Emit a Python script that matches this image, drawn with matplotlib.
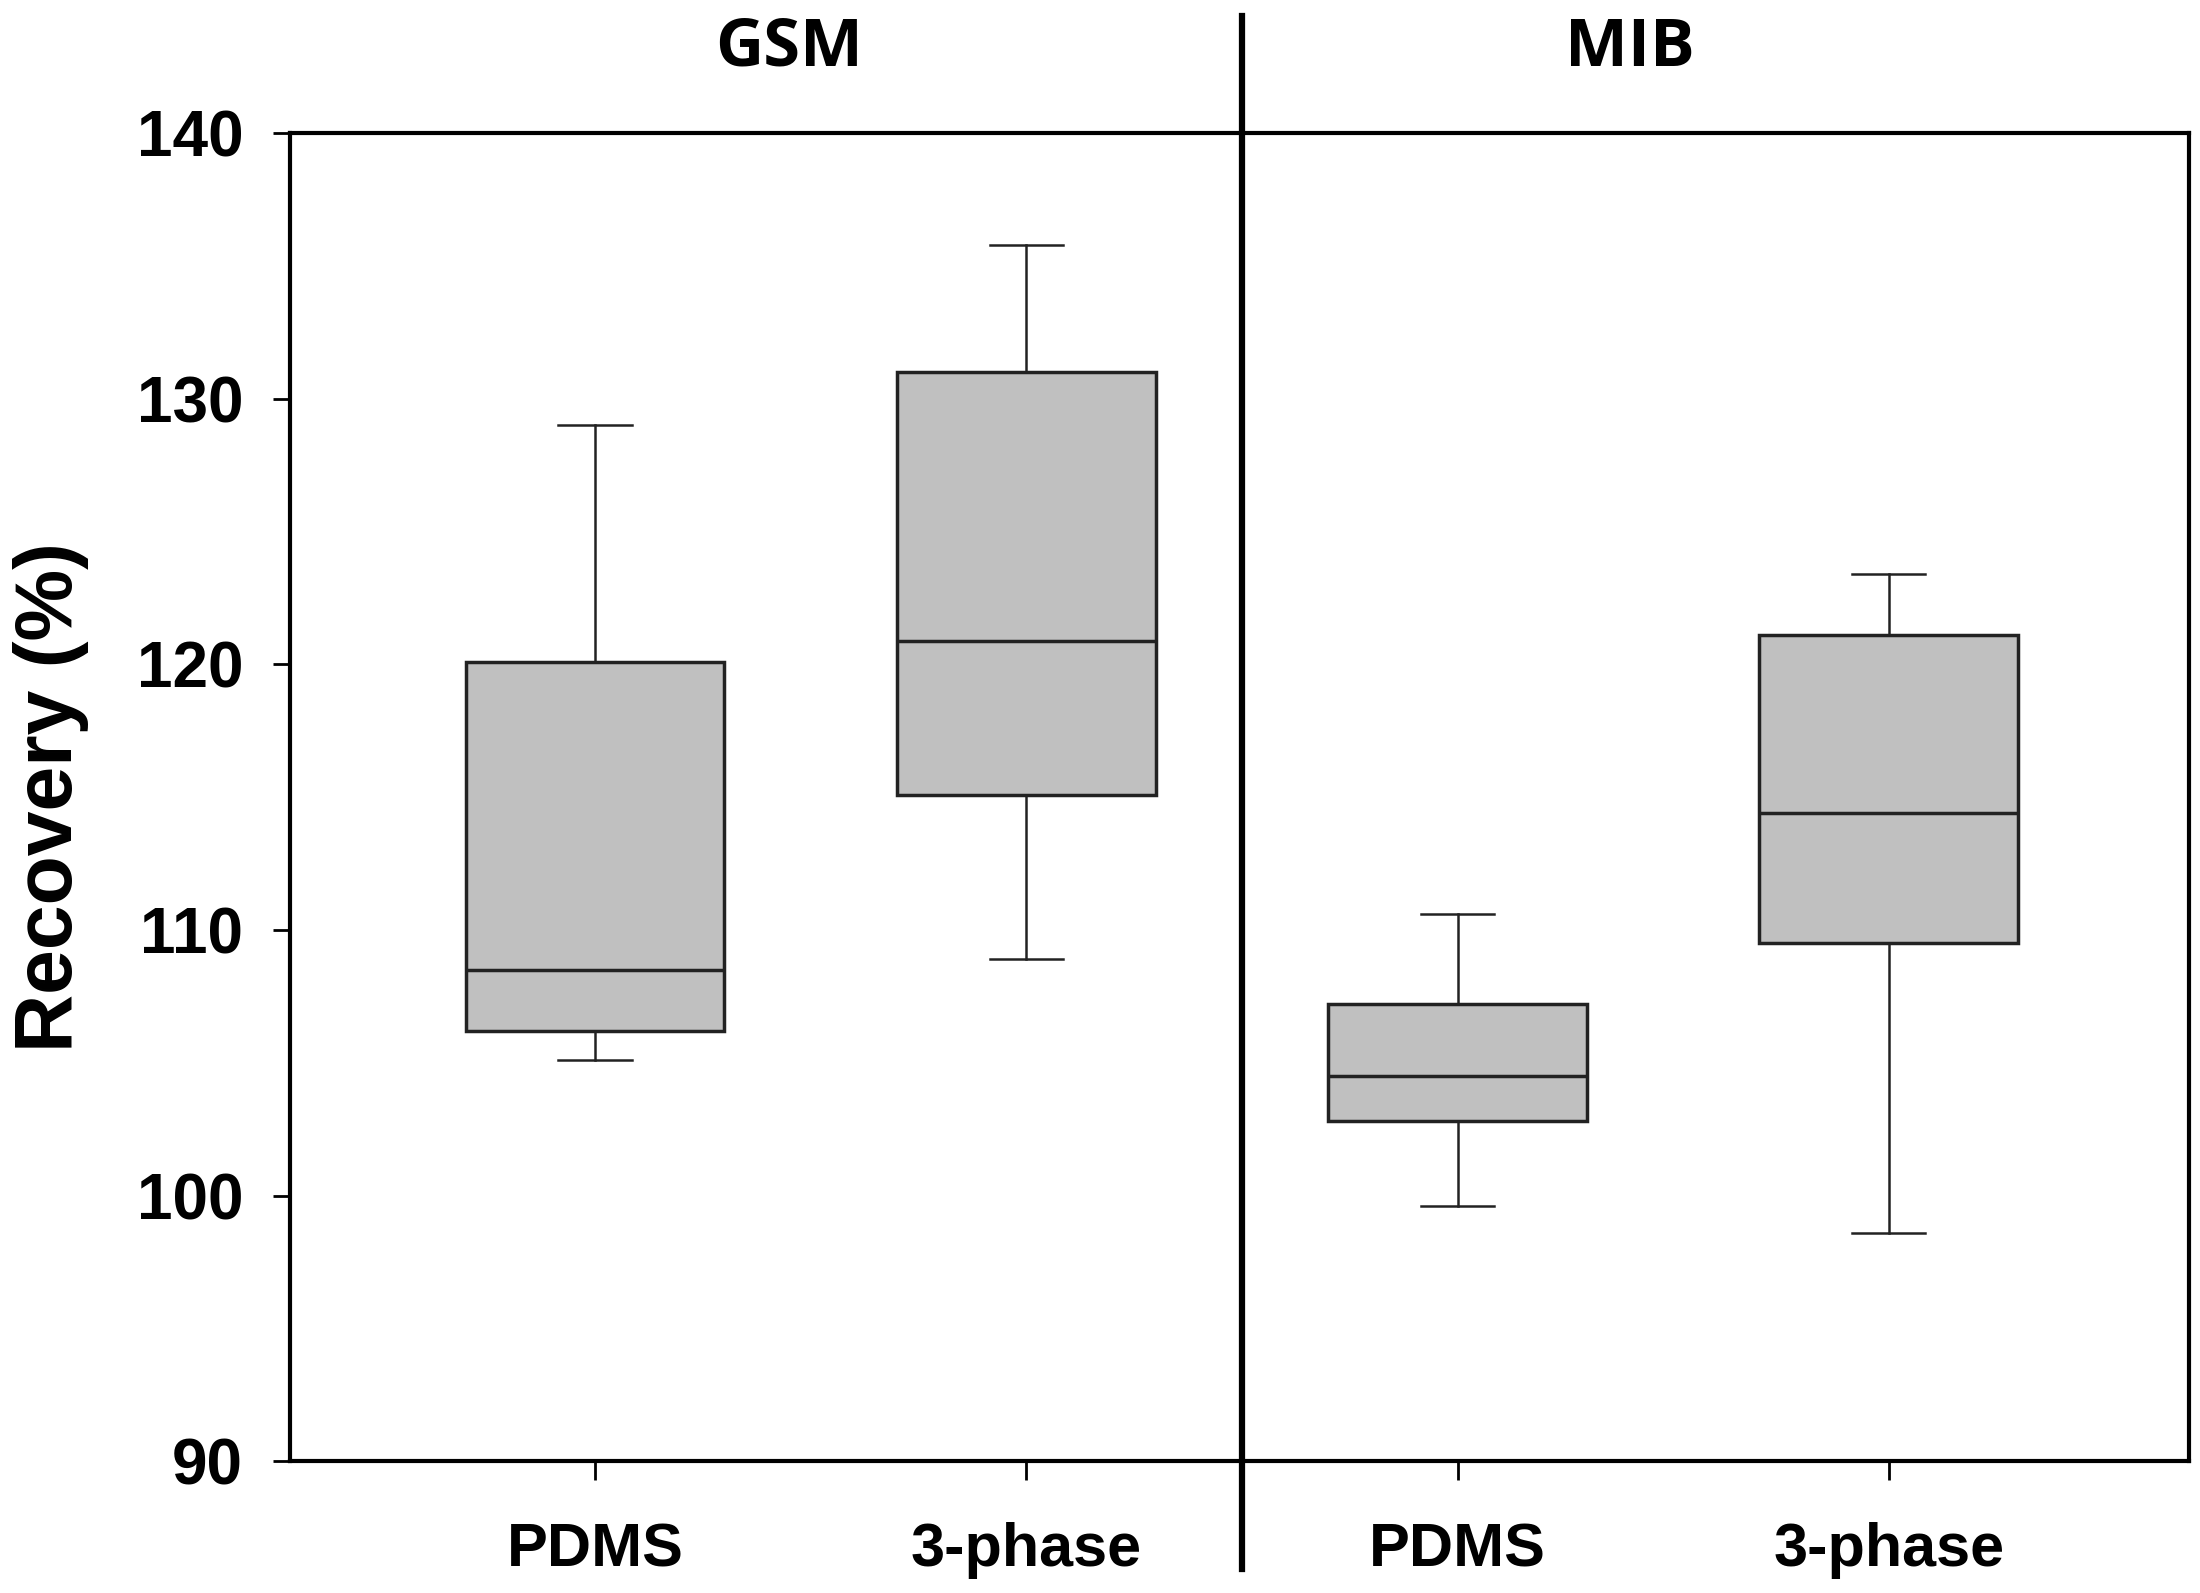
import matplotlib
matplotlib.use("Agg")
import matplotlib.pyplot as plt

# values
groups = ["GSM", "MIB"]
methods = ["PDMS", "3-phase", "PDMS", "3-phase"]
whisker_low = [105.1, 108.9, 99.6, 98.6]
q1 = [106.2, 115.1, 102.8, 109.5]
median = [108.5, 120.9, 104.5, 114.4]
q3 = [120.1, 131.0, 107.2, 121.1]
whisker_high = [129.0, 135.8, 110.6, 123.4]
yticks = [90, 100, 110, 120, 130, 140]

stats = []
for i in range(len(methods)):
    stats.append({
        "whislo": whisker_low[i], "q1": q1[i], "med": median[i],
        "q3": q3[i], "whishi": whisker_high[i], "fliers": [],
    })

fig = plt.figure(figsize=(22, 15.93), dpi=100)
ax = fig.add_axes([0.132, 0.0828, 0.863, 0.8335])

positions = [1, 2, 3, 4]
ax.bxp(stats, positions=positions, widths=0.6, patch_artist=True,
       showfliers=False,
       boxprops=dict(facecolor="#c0c0c0", edgecolor="#222222", linewidth=2.5),
       medianprops=dict(color="#222222", linewidth=2.5),
       whiskerprops=dict(color="#222222", linewidth=1.8),
       capprops=dict(color="#222222", linewidth=1.8),
       capwidths=0.17)

ax.set_xlim(0.294, 4.696)
ax.set_ylim(90, 140)
ax.set_yticks(yticks)
ax.set_xticks(positions)
ax.set_xticklabels(methods)

for s in ax.spines.values():
    s.set_linewidth(3)
    s.set_color("black")

ax.tick_params(axis="y", direction="out", length=12, width=2, pad=22)
ax.tick_params(axis="x", direction="out", length=14, width=2, pad=30)
for lab in ax.get_yticklabels():
    lab.set_fontfamily("Liberation Sans")
    lab.set_fontweight("bold")
    lab.set_fontsize(46)
for lab in ax.get_xticklabels():
    lab.set_fontfamily("Liberation Sans")
    lab.set_fontweight("bold")
    lab.set_fontsize(44)

ax.set_ylabel("Recovery (%)", fontsize=58, fontweight="bold",
              family="Liberation Sans", labelpad=34)

# divider between the two compounds
ax.axvline(2.5, ymin=-0.081, ymax=1.088, color="black", linewidth=4.5,
           clip_on=False)

# group titles
ax.text(1.45, 143.2, groups[0], ha="center", va="center", fontsize=48,
        fontweight="bold", family="Open Sans")
ax.text(3.4, 143.2, groups[1], ha="center", va="center", fontsize=48,
        fontweight="bold", family="Open Sans")

fig.savefig("out.png", dpi=100)
